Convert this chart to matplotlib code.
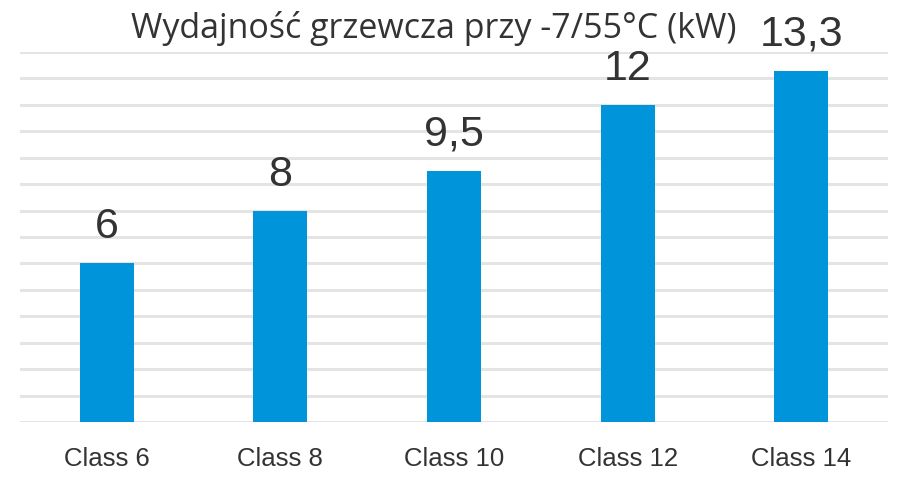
import matplotlib
matplotlib.use('Agg')
import matplotlib.pyplot as plt

categories = ['Class 6', 'Class 8', 'Class 10', 'Class 12', 'Class 14']
values = [6, 8, 9.5, 12, 13.3]
value_labels = ['6', '8', '9,5', '12', '13,3']
title = 'Wydajność grzewcza przy -7/55°C (kW)'

bar_color = '#0095DA'
grid_color = '#E4E4E4'

fig = plt.figure(figsize=(9.22, 4.85), dpi=100)
W, H = 922, 485
# axes in pixel coords: left 20, right 888, top 53, bottom 423
ax = fig.add_axes([20 / W, 1 - 423 / H, 868 / W, 370 / H])

x = range(len(categories))
ax.bar(x, values, width=0.31, color=bar_color, zorder=2)
ax.set_xlim(-0.5, len(categories) - 0.5)
ax.set_ylim(0, 14)
ax.set_yticks(range(0, 15))
ax.yaxis.grid(True, color=grid_color, linewidth=2.2, zorder=0)
ax.tick_params(axis='y', left=False, labelleft=False)
ax.tick_params(axis='x', bottom=False, pad=14)
ax.set_xticks(list(x))
ax.set_xticklabels(categories, fontsize=18.5, color='#333333', family='Liberation Sans')
for s in ax.spines.values():
    s.set_visible(False)

# value labels above bars
for xi, v, lab in zip(x, values, value_labels):
    ax.annotate(lab, (xi, v), xytext=(0, 18.7), textcoords='offset points',
                ha='center', va='baseline', fontsize=31, color='#333333',
                family='Liberation Sans')

fig.text(434 / W, 1 - 29 / H, title, ha='center', va='center',
         fontsize=24.5, color='#333333', family='Open Sans')

fig.savefig('out.png', dpi=100)
